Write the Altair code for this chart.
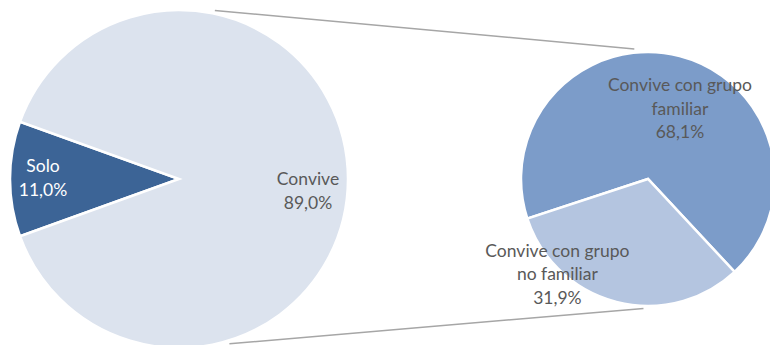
import math
import altair as alt
import pandas as pd

# ---- data ----
main_cats = ["Solo", "Convive"]
main_vals = [11.0, 89.0]
main_names = ["Solo", "Convive"]

sub_cats = ["Convive con grupo familiar", "Convive con grupo no familiar"]
sub_vals = [68.1, 31.9]
sub_names = ["Convive con grupo\nfamiliar", "Convive con grupo\nno familiar"]

# ---- styles / layout ----
main_colors = ["#3C6496", "#DCE3EE"]
sub_colors = ["#7C9CC9", "#B4C5E0"]
TEXT_GRAY = "#595959"
FONT = "Lato"
FS = 17.5
LH = 23.5
W, H = 762, 337
CXL, CYL, RL = 171, 171, 169
CXR, CYR, RR = 640, 171, 127
START_L = math.radians(270 - main_vals[0] * 3.6 / 2)
START_R = math.radians(137 + sub_vals[1] * 3.6)


def pct(v):
    return f"{v:.1f}".replace(".", ",") + "%"


dfL = pd.DataFrame({
    "cat": main_cats,
    "val": main_vals,
    "idx": list(range(len(main_cats))),
    "label": [f"{n}\n{pct(v)}" for n, v in zip(main_names, main_vals)],
})
dfR = pd.DataFrame({
    "cat": sub_cats,
    "val": sub_vals,
    "idx": list(range(len(sub_cats))),
    "label": [f"{n}\n{pct(v)}" for n, v in zip(sub_names, sub_vals)],
})


def theta(start):
    return alt.Theta("val:Q", stack=True,
                     scale=alt.Scale(range=[start, start + 2 * math.pi]))


def pie(df, start, cats, colors, cx, cy, r):
    return alt.Chart(df).mark_arc(radius=r, stroke="white", strokeWidth=2.5).encode(
        theta=theta(start),
        color=alt.Color("cat:N", scale=alt.Scale(domain=cats, range=colors), legend=None),
        order=alt.Order("idx:Q"),
        x=alt.value(cx), y=alt.value(cy),
    )


def label(df, start, cat, color, cx, cy, r, dx=0, dy=0):
    return alt.Chart(df).transform_calculate(
        t=f"datum.cat == '{cat}' ? datum.label : ''"
    ).mark_text(
        radius=r, color=color, font=FONT, fontSize=FS, lineBreak="\n",
        lineHeight=LH, align="center", baseline="middle", dx=dx, dy=dy,
    ).encode(
        theta=theta(start),
        order=alt.Order("idx:Q"),
        text="t:N",
        x=alt.value(cx), y=alt.value(cy),
    )


left = alt.layer(
    pie(dfL, START_L, main_cats, main_colors, CXL, CYL, RL),
    label(dfL, START_L, "Solo", "white", CXL, CYL, 136, 0, -12),
    label(dfL, START_L, "Convive", TEXT_GRAY, CXL, CYL, 129, 0, 1),
)
right = alt.layer(
    pie(dfR, START_R, sub_cats, sub_colors, CXR, CYR, RR),
    label(dfR, START_R, sub_cats[0], TEXT_GRAY, CXR, CYR, 76, 13, -19),
    label(dfR, START_R, sub_cats[1], TEXT_GRAY, CXR, CYR, 131, -58, -54),
)


# connector lines between the two pies (geometry from centres / radii)
def pt(cx, cy, r, deg):
    a = math.radians(deg)
    return cx + r * math.sin(a), cy - r * math.cos(a)


p1 = pt(CXL, CYL, RL * 1.02, 12)
p2 = pt(CXR, CYR, RR * 1.03, -6)
p3 = pt(CXL, CYL, RL * 1.02, 163)
p4 = pt(CXR, CYR, RR * 1.02, 182)
lines = pd.DataFrame({
    "x": [p1[0], p3[0]], "y": [p1[1], p3[1]],
    "x2": [p2[0], p4[0]], "y2": [p2[1], p4[1]],
})
conn = alt.Chart(lines).mark_rule(color="#A6A6A6", strokeWidth=1.5).encode(
    x=alt.X("x:Q", scale=None, axis=None),
    y=alt.Y("y:Q", scale=None, axis=None),
    x2="x2:Q", y2="y2:Q",
)

chart = alt.layer(conn, left, right).resolve_scale(
    theta="independent", color="independent"
).properties(
    width=W, height=H, autosize=alt.AutoSizeParams(type="none"), padding=0,
    background="white",
).configure_view(stroke=None)

chart.save("out.html", embed_options={"renderer": "svg", "actions": False})
